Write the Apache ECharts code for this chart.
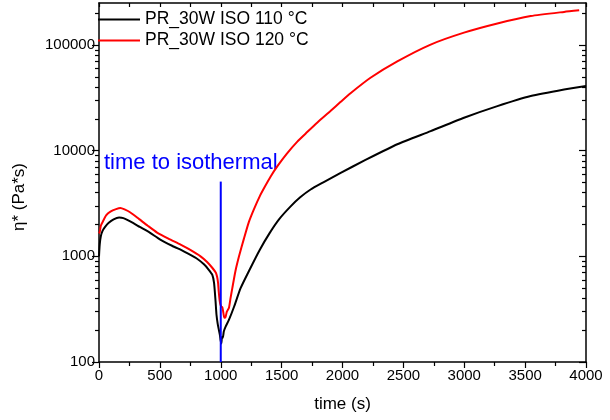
<!DOCTYPE html>
<html>
<head>
<meta charset="utf-8">
<script src="https://cdn.jsdelivr.net/npm/echarts@6/dist/echarts.min.js"></script>
<style>
  html, body { margin: 0; padding: 0; background: #fff; }
  #chart { width: 610px; height: 420px; }
</style>
</head>
<body>
<div id="chart"></div>
<script>
// Complex viscosity during the isothermal cure of PR_30W at two temperatures
const seriesNames = ['PR_30W ISO 110 °C', 'PR_30W ISO 120 °C'];

// [time (s), η* (Pa·s)]
const iso110 = [
  [0, 1000], [6, 1300], [15, 1550], [30, 1750], [50, 1900], [80, 2080], [120, 2240],
  [165, 2330], [200, 2300], [260, 2130], [335, 1900], [420, 1670], [500, 1450],
  [600, 1260], [700, 1110], [800, 960], [862, 840], [900, 750], [930, 670],
  [945, 560], [957, 380], [965, 280], [975, 230], [985, 200], [993, 180],
  [999, 160], [1005, 150], [1010, 172], [1017, 170], [1025, 194], [1040, 216],
  [1067, 250], [1110, 335], [1163, 500], [1240, 760], [1320, 1150], [1400, 1650],
  [1480, 2250], [1574, 2970], [1650, 3600], [1738, 4290], [1850, 5070],
  [1985, 6170], [2177, 8040], [2450, 11500], [2724, 15300], [2998, 20500],
  [3272, 26400], [3546, 32900], [3820, 38000], [4000, 41000]
];

const iso120 = [
  [0, 1650], [6, 1700], [15, 1950], [33, 2150], [60, 2450], [94, 2650], [140, 2800],
  [176, 2870], [210, 2780], [258, 2600], [330, 2250], [400, 1950], [477, 1680],
  [570, 1470], [670, 1290], [750, 1150], [834, 1000], [890, 880], [930, 780],
  [960, 700], [970, 640], [978, 560], [983, 470], [990, 390], [997, 350],
  [1005, 335], [1013, 330], [1022, 290], [1030, 262], [1040, 268], [1050, 300],
  [1067, 325], [1080, 400], [1095, 500], [1120, 720], [1150, 1000], [1191, 1480],
  [1230, 2100], [1273, 2800], [1320, 3700], [1364, 4600], [1410, 5700],
  [1464, 7100], [1540, 9300], [1629, 12200], [1710, 15000], [1794, 18500],
  [1901, 23700], [1985, 29000], [2066, 35000], [2230, 49000], [2450, 70000],
  [2724, 101000], [2998, 131000], [3272, 160000], [3546, 188000],
  [3820, 206000], [3944, 213000]
];

// Marker for the start of the isothermal hold
const isoMarker = [[1000, 100], [1000, 5100]];
const isoLabel = 'time to isothermal';

// Axis settings
const xRange = [0, 4000];
const yRange = [100, 250000];
const yMajor = [100, 1000, 10000, 100000];
const yMinor = [
  200, 300, 400, 500, 600, 700, 800, 900,
  2000, 3000, 4000, 5000, 6000, 7000, 8000, 9000,
  20000, 30000, 40000, 50000, 60000, 70000, 80000, 90000,
  200000
];

const FONT = 'Liberation Sans, Arial, sans-serif';
const axisLine = { show: true, lineStyle: { color: '#000', width: 1.5 } };

function yAxisOf(position, inside, values, len, showLine, labels) {
  return {
    type: 'log',
    logBase: 10,
    min: yRange[0],
    max: yRange[1],
    position: position,
    axisLine: showLine ? axisLine : { show: false },
    splitLine: { show: false },
    axisTick: { show: true, inside: inside, length: len, customValues: values,
                lineStyle: { color: '#000', width: 1.2 } },
    axisLabel: labels
      ? { show: true, customValues: yMajor, color: '#000', fontSize: 15,
          fontFamily: FONT, margin: 4, formatter: v => String(Math.round(v)) }
      : { show: false }
  };
}

function lineSeries(name, data, color, z) {
  return {
    name: name, type: 'line', data: data,
    xAxisIndex: 0, yAxisIndex: 0,
    showSymbol: false, symbol: 'none', smooth: 0.2,
    lineStyle: { color: color, width: 2 }, itemStyle: { color: color }, z: z
  };
}

const chart = echarts.init(document.getElementById('chart'), null, { renderer: 'canvas' });

chart.setOption({
  animation: false,
  backgroundColor: '#fff',
  grid: { left: 99, right: 24, top: 3, bottom: 58, containLabel: false },
  legend: {
    data: seriesNames.map(n => ({ name: n, icon: 'rect' })),
    orient: 'vertical',
    left: 98,
    top: 9,
    padding: 0,
    itemGap: 0,
    itemWidth: 42,
    itemHeight: 2,
    textStyle: { fontSize: 17.5, fontFamily: FONT, color: '#000', lineHeight: 21 }
  },
  xAxis: [
    {
      type: 'value', min: xRange[0], max: xRange[1], interval: 500,
      position: 'bottom',
      name: 'time (s)', nameLocation: 'middle', nameGap: 34,
      nameTextStyle: { fontSize: 17, fontFamily: FONT, color: '#000' },
      axisLine: axisLine,
      splitLine: { show: false },
      axisTick: { show: true, inside: false, length: 6, lineStyle: { color: '#000', width: 1.2 } },
      minorTick: { show: true, splitNumber: 2, length: 4, lineStyle: { color: '#000', width: 1.2 } },
      minorSplitLine: { show: false },
      axisLabel: { color: '#000', fontSize: 15, fontFamily: FONT, margin: 6,
                   formatter: v => String(v) }
    },
    {
      type: 'value', min: xRange[0], max: xRange[1], interval: 250,
      position: 'top',
      axisLine: axisLine,
      splitLine: { show: false },
      axisTick: { show: true, inside: true, length: 4, lineStyle: { color: '#000', width: 1.2 } },
      axisLabel: { show: false }
    }
  ],
  yAxis: [
    yAxisOf('left', false, yMajor, 7, true, true),
    yAxisOf('left', false, yMinor, 4, false, false),
    yAxisOf('right', true, yMajor, 7, true, false),
    yAxisOf('right', true, yMinor, 4, false, false)
  ],
  graphic: [
    {
      type: 'text', x: 19, y: 197, rotation: Math.PI / 2,
      style: { text: 'η* (Pa*s)', fontSize: 17, fontFamily: FONT, fill: '#000',
               align: 'center', verticalAlign: 'middle' }
    },
    {
      type: 'text', x: 104, y: 163,
      style: { text: isoLabel, fontSize: 22, fontFamily: FONT, fill: '#0000ff',
               align: 'left', verticalAlign: 'middle' }
    }
  ],
  series: [
    lineSeries(seriesNames[0], iso110, '#000000', 3),
    lineSeries(seriesNames[1], iso120, '#ff0000', 2),
    {
      name: 'isothermal', type: 'line', data: isoMarker,
      xAxisIndex: 0, yAxisIndex: 0,
      showSymbol: false, symbol: 'none',
      lineStyle: { color: '#0000ff', width: 2 }, z: 4
    }
  ]
});
</script>
</body>
</html>
